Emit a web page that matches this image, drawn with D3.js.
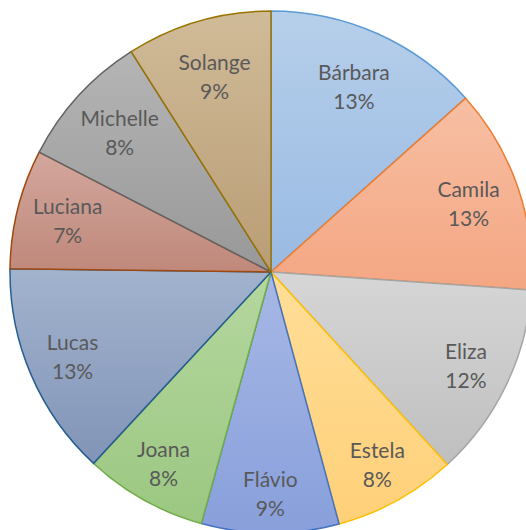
<!DOCTYPE html>
<html>
<head>
<meta charset="utf-8">
<script src="https://cdn.jsdelivr.net/npm/d3@7"></script>
<style>
html,body{margin:0;padding:0;background:#fff;overflow:hidden;}
svg{display:block;}
</style>
</head>
<body>
<svg id="chart" width="526" height="530"></svg>
<script>
const names = ["Bárbara","Camila","Eliza","Estela","Flávio","Joana","Lucas","Luciana","Michelle","Solange"];
const values = [13.4, 12.7, 12.1, 7.6, 8.5, 7.6, 13.3, 7.4, 8.4, 9.0];
const strokeColors = ["#5b9bd5","#ed7d31","#a5a5a5","#ffc000","#4472c4","#70ad47","#255e91","#9e480e","#636363","#997300"];
const topColors    = ["#b6cfea","#f7bfa3","#d6d6d6","#ffde98","#a7b8e5","#b5d79f","#a2b3ce","#d3a79e","#b5b5b5","#d0bb98"];
const bottomColors = ["#99bae3","#f4a682","#bfbfbf","#ffd079","#889fdb","#9bc781","#8294b7","#bf887a","#989898","#b99d75"];

const svg = d3.select("#chart");
const cx = 271, cy = 272, r = 261;
const defs = svg.append("defs");
names.forEach((n,i)=>{
  const g = defs.append("linearGradient").attr("id","g"+i)
    .attr("x1",0).attr("y1",0).attr("x2",0).attr("y2",1);
  g.append("stop").attr("offset","0%").attr("stop-color",topColors[i]);
  g.append("stop").attr("offset","100%").attr("stop-color",bottomColors[i]);
});

const pie = d3.pie().sort(null).value(d=>d)(values);
const arc = d3.arc().innerRadius(0).outerRadius(r);
const root = svg.append("g");
const slices = root.append("g").attr("transform",`translate(${cx},${cy})`);
slices.selectAll("path").data(pie).join("path")
  .attr("d",arc)
  .attr("fill",(d,i)=>`url(#g${i})`)
  .attr("stroke",(d,i)=>strokeColors[i])
  .attr("stroke-width",1.5)
  .attr("stroke-linejoin","round");

const labels = root.append("g").attr("transform",`translate(${cx},${cy})`);
const total = d3.sum(values);
pie.forEach((d,i)=>{
  const a = (d.startAngle+d.endAngle)/2;
  const dist = 212 - 10*Math.cos(a);
  const x = Math.sin(a)*dist, y = -Math.cos(a)*dist;
  const t = labels.append("text")
    .attr("x",x).attr("y",y)
    .attr("text-anchor","middle")
    .attr("font-family","Lato, 'Open Sans', sans-serif")
    .attr("font-size",21)
    .attr("fill","#595959");
  t.append("tspan").attr("x",x).attr("dy","-0.35em").text(names[i]);
  const pct = Math.round(d.value/total*100)+"%";
  t.append("tspan").attr("x",x).attr("dy",29).text(pct);
});
</script>
</body>
</html>
